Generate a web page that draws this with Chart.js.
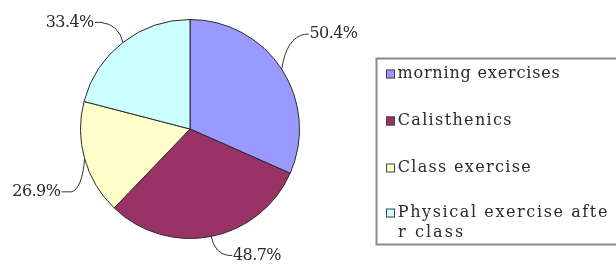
<!DOCTYPE html>
<html>
<head>
<meta charset="utf-8">
<script src="https://cdn.jsdelivr.net/npm/chart.js@4.4.0/dist/chart.umd.min.js"></script>
<style>
html,body{margin:0;padding:0;background:#fff;}
#wrap{width:616px;height:269px;position:relative;}
</style>
</head>
<body>
<div id="wrap"><canvas id="c" width="616" height="269"></canvas></div>
<script>
const categories = ['morning exercises', 'Calisthenics', 'Class exercise', 'Physical exercise after class'];
const values = [50.4, 48.7, 26.9, 33.4];
const valueLabels = ['50.4%', '48.7%', '26.9%', '33.4%'];
const colors = ['#9999ff', '#993366', '#ffffcc', '#ccffff'];

const FONT = '16px "DejaVu Serif", "Liberation Serif", serif';
const CELL = 9.6; // fixed advance per character (SimSun-like half-width look)
const TEXT_COLOR = '#2a2a2a';

// draw a whole string with letter spacing so it spans CELL px per character
function monoText(ctx, str, x, y, align) {
  ctx.letterSpacing = '0px';
  const w = ctx.measureText(str).width;
  const target = CELL * str.length;
  const ls = (target - w) / str.length;
  ctx.letterSpacing = ls.toFixed(2) + 'px';
  ctx.textAlign = 'left';
  const sx = align === 'right' ? x - target : x;
  ctx.fillText(str, sx + ls / 2, y);
  ctx.letterSpacing = '0px';
}

// leader style per slice: elbow offset from arc edge, horizontal run length
const leaders = [
  {dx: 23, dy: -35, run: 4},
  {dx: 17, dy: 19, run: 4},
  {dx: -13, dy: 33, run: 10},
  {dx: -22, dy: -20, run: 6}
];

const labelPlugin = {
  id: 'leaderLabels',
  afterDatasetsDraw(chart) {
    const ctx = chart.ctx;
    const meta = chart.getDatasetMeta(0);
    ctx.save();
    ctx.font = FONT;
    ctx.fillStyle = TEXT_COLOR;
    ctx.strokeStyle = '#333';
    ctx.lineWidth = 1;
    ctx.textBaseline = 'middle';
    meta.data.forEach((arc, i) => {
      const p = arc.getProps(['x', 'y', 'startAngle', 'endAngle', 'outerRadius'], true);
      const mid = (p.startAngle + p.endAngle) / 2;
      const ex = p.x + Math.cos(mid) * p.outerRadius;
      const ey = p.y + Math.sin(mid) * p.outerRadius;
      const L = leaders[i];
      const bx = ex + L.dx, by = ey + L.dy;
      const right = Math.cos(mid) >= 0;
      const hx = bx + (right ? L.run : -L.run);
      ctx.beginPath();
      ctx.moveTo(ex, ey);
      ctx.quadraticCurveTo(ex + L.dx * 0.2, by - (by - ey) * 0.1, bx, by);
      ctx.lineTo(hx, by);
      ctx.stroke();
      monoText(ctx, valueLabels[i], hx + (right ? 1 : -1), by, right ? 'left' : 'right');
    });
    ctx.restore();
  }
};

const legendPlugin = {
  id: 'boxLegend',
  afterDraw(chart) {
    const ctx = chart.ctx;
    const W = chart.width;
    const boxL = 376.5, boxT = 58.5, boxB = 244.5;
    ctx.save();
    ctx.strokeStyle = '#8a8a8a';
    ctx.lineWidth = 2;
    ctx.strokeRect(boxL, boxT, W + 10 - boxL, boxB - boxT);
    ctx.font = FONT;
    ctx.fillStyle = TEXT_COLOR;
    ctx.textBaseline = 'middle';
    const rowsY = [74, 121, 168, 213];
    const textX = 397;
    const maxChars = Math.floor((W - 2 - textX) / CELL);
    categories.forEach((label, i) => {
      const y = rowsY[i];
      ctx.fillStyle = colors[i];
      ctx.fillRect(386, y - 4.5, 9, 9);
      ctx.strokeStyle = '#444';
      ctx.lineWidth = 1;
      ctx.strokeRect(386.5, y - 4, 8, 8);
      // character wrap (as in the original legend)
      const lines = [];
      for (let k = 0; k < label.length; k += maxChars) lines.push(label.slice(k, k + maxChars));
      ctx.fillStyle = TEXT_COLOR;
      lines.forEach((ln, k) => monoText(ctx, ln, textX, y + k * 20, 'left'));
    });
    ctx.restore();
  }
};

new Chart(document.getElementById('c'), {
  type: 'pie',
  data: {
    labels: categories,
    datasets: [{
      data: values,
      backgroundColor: colors,
      borderColor: '#2b2b2b',
      borderWidth: 1
    }]
  },
  options: {
    responsive: false,
    animation: false,
    devicePixelRatio: 1,
    layout: {padding: {left: 80, right: 316, top: 19, bottom: 30}},
    plugins: {legend: {display: false}, tooltip: {enabled: false}}
  },
  plugins: [labelPlugin, legendPlugin]
});
</script>
</body>
</html>
